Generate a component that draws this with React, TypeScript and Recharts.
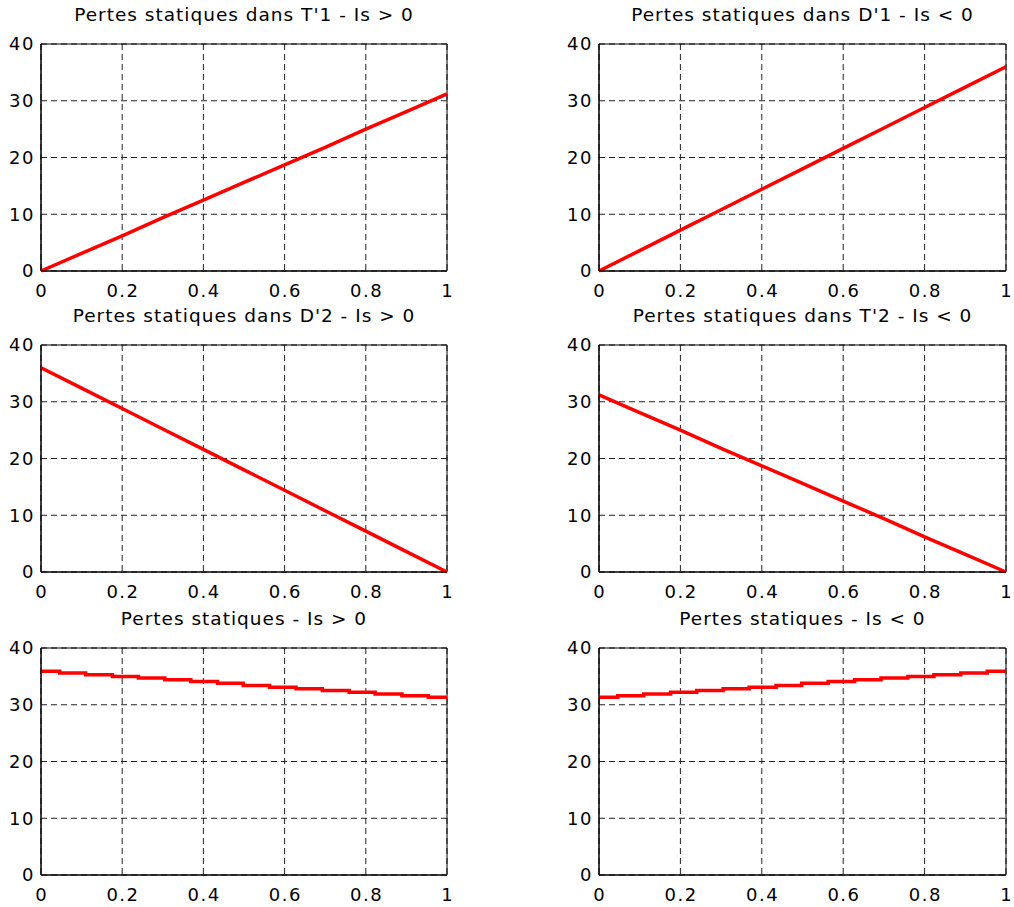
import { LineChart, Line, XAxis, YAxis, CartesianGrid, ReferenceArea } from "recharts";

// x positions of the sampled curves (duty cycle)
const xLinear = [0, 0.1, 0.2, 0.3, 0.4, 0.5, 0.6, 0.7, 0.8, 0.9, 1];
const lossT1Pos = [0, 3.1, 6.2, 9.4, 12.5, 15.6, 18.7, 21.8, 25.0, 28.1, 31.2];
const lossD1Neg = [0, 3.6, 7.2, 10.8, 14.4, 18.0, 21.6, 25.2, 28.8, 32.4, 36.0];
const lossD2Pos = [36.0, 32.4, 28.8, 25.2, 21.6, 18.0, 14.4, 10.8, 7.2, 3.6, 0];
const lossT2Neg = [31.2, 28.1, 25.0, 21.8, 18.7, 15.6, 12.5, 9.4, 6.2, 3.1, 0];

// staircase totals
const xSteps = [0, 0.046, 0.11, 0.176, 0.24, 0.305, 0.369, 0.435, 0.498, 0.563, 0.628, 0.693, 0.759, 0.823, 0.889, 0.954, 1];
const totalPos = [35.9, 35.6, 35.3, 35.0, 34.7, 34.4, 34.1, 33.8, 33.4, 33.1, 32.8, 32.5, 32.2, 31.9, 31.6, 31.3, 31.3];
const totalNeg = [31.3, 31.6, 31.9, 32.2, 32.5, 32.8, 33.1, 33.4, 33.8, 34.1, 34.4, 34.7, 35.0, 35.3, 35.6, 35.9, 35.9];

const xTicks = [0, 0.2, 0.4, 0.6, 0.8, 1];
const yTicks = [0, 10, 20, 30, 40];

const toRows = (xs: number[], ys: number[]) => xs.map((x, i) => ({ x, y: ys[i] }));

const FONT = "'DejaVu Sans', 'Liberation Sans', Arial, sans-serif";

const XTick = (props: any) => {
  const { x, y, payload } = props;
  return (
    <text
      x={x + 0.75}
      y={y}
      dy="0.71em"
      textAnchor="middle"
      fill="#000"
      style={{ fontFamily: FONT, fontSize: 18, letterSpacing: 1.5 }}
    >
      {payload.value}
    </text>
  );
};

const YTick = (props: any) => {
  const { x, y, payload } = props;
  return (
    <text
      x={x}
      y={y}
      dy="0.36em"
      textAnchor="end"
      fill="#000"
      style={{ fontFamily: FONT, fontSize: 18, letterSpacing: 1.5 }}
    >
      {payload.value}
    </text>
  );
};

interface PanelProps {
  title: string;
  rows: { x: number; y: number }[];
  left: number;
  top: number;
  plotWidth: number;
  step?: boolean;
}

const AXIS_W = 41;
const PLOT_H = 227;

const Panel = ({ title, rows, left, top, plotWidth, step }: PanelProps) => {
  const width = AXIS_W + plotWidth + 8;
  const height = 44 + PLOT_H + 30;
  return (
    <div style={{ position: "absolute", left, top, width, height }}>
      <div
        style={{
          position: "absolute",
          left: AXIS_W,
          top: 6,
          width: plotWidth,
          textAlign: "center",
          fontFamily: FONT,
          fontSize: 18.5,
          lineHeight: "18px",
          letterSpacing: 1,
          color: "#000",
          whiteSpace: "nowrap",
        }}
      >
        {title}
      </div>
      <LineChart width={width} height={height} data={rows} margin={{ top: 44, right: 8, bottom: 0, left: 0 }}>
        <CartesianGrid stroke="#222" strokeDasharray="6 4" />
        <XAxis
          dataKey="x"
          type="number"
          domain={[0, 1]}
          ticks={xTicks}
          height={30}
          tickLine={false}
          tickSize={6}
          tickMargin={7}
          axisLine={{ stroke: "#000" }}
          tick={<XTick />}
          interval={0}
        />
        <YAxis
          type="number"
          domain={[0, 40]}
          ticks={yTicks}
          width={AXIS_W}
          tickLine={false}
          tickSize={6}
          tickMargin={0}
          axisLine={{ stroke: "#000" }}
          tick={<YTick />}
          interval={0}
        />
        <ReferenceArea x1={0} x2={1} y1={0} y2={40} fill="none" stroke="#000" strokeWidth={1} />
        <Line
          dataKey="y"
          type={step ? "stepAfter" : "linear"}
          stroke="#ff0000"
          strokeWidth={3.5}
          dot={false}
          isAnimationActive={false}
        />
      </LineChart>
    </div>
  );
};

const App = () => (
  <div style={{ position: "absolute", left: 0, top: 0, width: 1014, height: 907, background: "#fff" }}>
    <Panel title="Pertes statiques dans T'1 - Is > 0" rows={toRows(xLinear, lossT1Pos)} left={0} top={0} plotWidth={406} />
    <Panel title="Pertes statiques dans D'1 - Is < 0" rows={toRows(xLinear, lossD1Neg)} left={558} top={0} plotWidth={407} />
    <Panel title="Pertes statiques dans D'2 - Is > 0" rows={toRows(xLinear, lossD2Pos)} left={0} top={301} plotWidth={406} />
    <Panel title="Pertes statiques dans T'2 - Is < 0" rows={toRows(xLinear, lossT2Neg)} left={558} top={301} plotWidth={407} />
    <Panel title="Pertes statiques - Is > 0" rows={toRows(xSteps, totalPos)} left={0} top={604} plotWidth={406} step />
    <Panel title="Pertes statiques - Is < 0" rows={toRows(xSteps, totalNeg)} left={558} top={604} plotWidth={407} step />
  </div>
);

export default App;
